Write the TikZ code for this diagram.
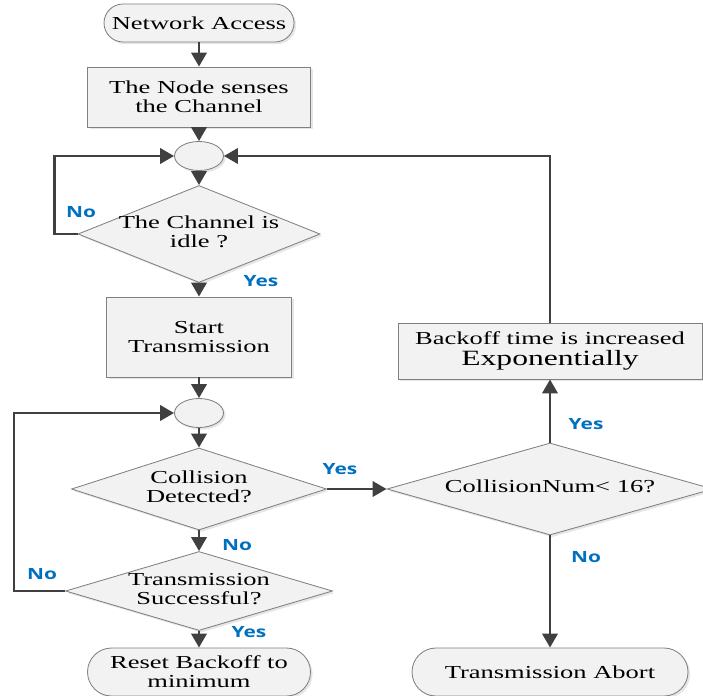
\documentclass[tikz,border=0pt]{standalone}
\usepackage{fontspec}
\setmainfont[FakeStretch=1.45]{Liberation Serif}
\newfontfamily\lblfont[FakeStretch=1.35]{Open Sans}
\usetikzlibrary{shapes.geometric,arrows.meta,shadows}
\definecolor{arrgray}{HTML}{404040}
\definecolor{bordgray}{HTML}{808080}
\definecolor{boxfill}{HTML}{F2F2F2}
\definecolor{lblblue}{HTML}{0070C0}
\newcommand{\pxu}{0.025cm}
\newcommand{\dtx}[1]{\makebox[0pt]{\raisebox{-2pt}{\renewcommand{\arraystretch}{1.05}\begin{tabular}{@{}c@{}}#1\end{tabular}}}}
\tikzset{
  base/.style={draw=bordgray, fill=boxfill, line width=0.6pt,
    drop shadow={opacity=0.2,shadow xshift=1.5pt,shadow yshift=-1.5pt},
    font=\fontsize{13}{13.5}\selectfont, align=center, inner sep=0pt},
  proc/.style={base, rectangle},
  term/.style={base, rectangle, rounded corners=#1*\pxu},
  decide/.style={base, diamond},
  joint/.style={base, ellipse, minimum width=49*\pxu, minimum height=29*\pxu},
  arr/.style={draw=arrgray, line width=1.8pt, -{Triangle[length=10pt,width=11pt]}},
  yn/.style={font=\lblfont\bfseries\fontsize{11}{11}\selectfont, text=lblblue}
}
\begin{document}
\begin{tikzpicture}[x=0.025cm, y=-0.025cm]
\useasboundingbox (0,0) rectangle (703,696);

% left column
\node[term=19, minimum width=190*\pxu, minimum height=38*\pxu] (na) at (199,23) {Network Access};
\node[proc, minimum width=223*\pxu, minimum height=60*\pxu] (sense) at (199,97) {The Node senses\\the Channel};
\node[joint] (j1) at (199,156) {};
\node[decide, minimum width=242*\pxu, minimum height=97*\pxu] (idle) at (199,234) {\dtx{The Channel is\\idle ?}};
\node[proc, minimum width=185*\pxu, minimum height=80*\pxu] (start) at (199,337) {Start\\Transmission};
\node[joint] (j2) at (199,413) {};
\node[decide, minimum width=255*\pxu, minimum height=82*\pxu] (coll) at (199,489) {\dtx{Collision\\Detected?}};
\node[decide, minimum width=267*\pxu, minimum height=79*\pxu] (succ) at (199,591) {\dtx{Transmission\\Successful?}};
\node[term=24, minimum width=223*\pxu, minimum height=48*\pxu] (reset) at (199,672) {Reset Backoff to\\minimum};

% right column
\node[decide, minimum width=326*\pxu, minimum height=92*\pxu] (cnum) at (550,489) {\dtx{CollisionNum< 16?}};
\node[proc, minimum width=304*\pxu, minimum height=56*\pxu] (incr) at (550,351) {Backoff time is increased\\[2pt]{\fontsize{15.5}{16}\selectfont Exponentially}};
\node[term=24, minimum width=276*\pxu, minimum height=48*\pxu] (abort) at (550,672) {Transmission Abort};

\draw[arr] (na) -- (sense);
\draw[arr] (sense) -- (j1);
\draw[arr] (j1) -- (idle);
\draw[arr] (idle) -- (start);
\draw[arr] (start) -- (j2);
\draw[arr] (j2) -- (coll);
\draw[arr] (coll) -- (succ);
\draw[arr] (succ) -- (reset);
\draw[arr] (coll) -- (cnum);
\draw[arr] (cnum) -- (incr);
\draw[arr] (cnum) -- (abort);
\draw[arr] (incr.north) |- (j1.east);
\draw[arr] (idle.west) -- ++(-23,0) |- (j1.west);
\draw[arr] (succ.west) -- ++(-51,0) |- (j2.west);

\node[yn] (no1) at (81,212) {No};
\node[yn] (yes1) at (261,281) {Yes};
\node[yn] (yes2) at (340,469) {Yes};
\node[yn] (no2) at (237,545) {No};
\node[yn] (no3) at (42,574) {No};
\node[yn] (yes3) at (249,632) {Yes};
\node[yn] (yes4) at (586,424) {Yes};
\node[yn] (no4) at (586,557) {No};
\end{tikzpicture}
\end{document}
